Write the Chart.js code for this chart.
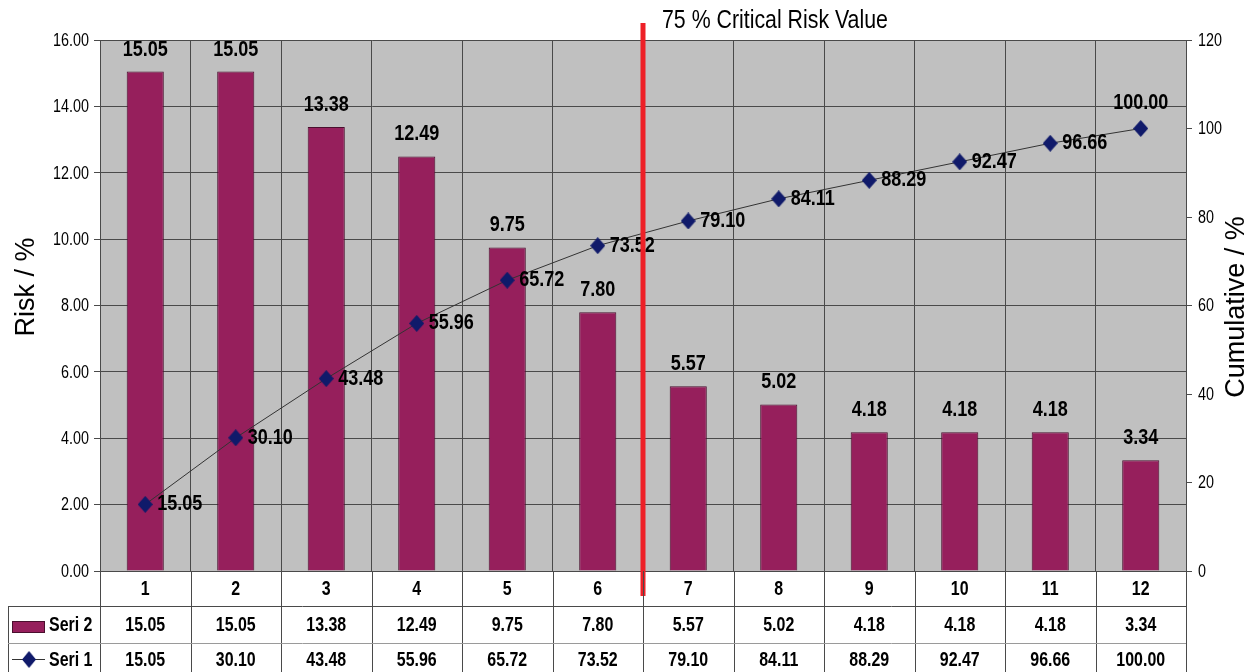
<!DOCTYPE html>
<html>
<head>
  <meta charset="utf-8">
  <title>Risk Pareto</title>
  <script src="https://cdn.jsdelivr.net/npm/chart.js"></script>
  <style>
    html, body { margin: 0; padding: 0; background: #fff; }
    #wrap { width: 1258px; height: 672px; }
  </style>
</head>
<body>
  <div id="wrap"><canvas id="myChart"></canvas></div>

  <script>
    // data
    const categories = ['1', '2', '3', '4', '5', '6', '7', '8', '9', '10', '11', '12'];
    const risk = [15.05, 15.05, 13.38, 12.49, 9.75, 7.80, 5.57, 5.02, 4.18, 4.18, 4.18, 3.34];
    const cumulative = [15.05, 30.10, 43.48, 55.96, 65.72, 73.52, 79.10, 84.11, 88.29, 92.47, 96.66, 100.00];
    const seriesNames = ['Seri 2', 'Seri 1'];
    const axisTitles = ['Risk / %', 'Cumulative / %'];
    const criticalLabel = '75 % Critical Risk Value';

    const FONT = '"Liberation Sans", Arial, sans-serif';
    const barColor = '#961f5c';
    const markColor = '#101a6a';
    const gridColor = '#4a4a4a';

    // diamond marker, a bit taller than wide
    const diamond = document.createElement('canvas');
    diamond.width = 15; diamond.height = 17;
    (function () {
      const d = diamond.getContext('2d');
      d.fillStyle = markColor;
      d.beginPath();
      d.moveTo(7.5, 0); d.lineTo(15, 8.5); d.lineTo(7.5, 17); d.lineTo(0, 8.5);
      d.closePath(); d.fill();
    })();

    // Arial Narrow look: squeeze Liberation Sans horizontally
    function narrow(ctx, text, x, y, size, bold, align, baseline, squeeze) {
      ctx.save();
      ctx.translate(x, y);
      ctx.scale(squeeze || 0.82, 1);
      ctx.font = (bold ? 'bold ' : '') + size + 'px ' + FONT;
      ctx.textAlign = align;
      ctx.textBaseline = baseline;
      ctx.fillText(text, 0, 0);
      ctx.restore();
    }

    const extras = {
      id: 'extras',
      beforeDraw(chart) {
        const a = chart.chartArea, ctx = chart.ctx;
        ctx.save();
        ctx.fillStyle = '#c0c0c0';
        ctx.fillRect(a.left, a.top, a.right - a.left, a.bottom - a.top);
        ctx.restore();
      },
      afterDatasetsDraw(chart) {
        const ctx = chart.ctx, a = chart.chartArea;
        const xs = chart.scales.x, yl = chart.scales.y, yr = chart.scales.y1;
        ctx.save();
        ctx.fillStyle = '#000';

        // axis tick labels
        yl.ticks.forEach(t => narrow(ctx, t.value.toFixed(2), a.left - 11, yl.getPixelForValue(t.value) + 1, 17.5, false, 'right', 'middle'));
        yr.ticks.forEach(t => narrow(ctx, String(t.value), a.right + 12, yr.getPixelForValue(t.value) + 1, 17.5, false, 'left', 'middle'));
        categories.forEach((c, i) => narrow(ctx, c, xs.getPixelForValue(i), 589, 21, true, 'center', 'middle', 0.76));

        // axis titles
        ctx.font = '27px ' + FONT;
        ctx.textAlign = 'center';
        ctx.textBaseline = 'middle';
        ctx.save();
        ctx.translate(27, 287);
        ctx.rotate(-Math.PI / 2);
        ctx.fillText(axisTitles[0], 0, 0);
        ctx.restore();
        ctx.save();
        ctx.translate(1237, 307);
        ctx.rotate(-Math.PI / 2);
        ctx.fillText(axisTitles[1], 0, 0);
        ctx.restore();

        // bar labels
        chart.getDatasetMeta(0).data.forEach((bar, i) => {
          narrow(ctx, risk[i].toFixed(2), bar.x, bar.y - 16, 22, true, 'center', 'alphabetic');
        });

        // line labels
        chart.getDatasetMeta(1).data.forEach((pt, i) => {
          if (i === cumulative.length - 1) {
            narrow(ctx, cumulative[i].toFixed(2), pt.x, pt.y - 20, 22, true, 'center', 'alphabetic');
          } else {
            narrow(ctx, cumulative[i].toFixed(2), pt.x + 12, pt.y, 22, true, 'left', 'middle');
          }
        });

        // critical line between 6 and 7
        const cx = (xs.getPixelForValue(5) + xs.getPixelForValue(6)) / 2;
        ctx.fillStyle = '#ee2027';
        ctx.fillRect(cx - 2.5, 23, 5, 573);
        ctx.fillStyle = '#000';
        narrow(ctx, criticalLabel, cx + 19, 21, 26, false, 'left', 'middle');

        // data table
        const cw = (a.right - a.left) / categories.length;
        const row1 = 606, row2 = 643, bottom = 672;
        ctx.strokeStyle = gridColor;
        ctx.lineWidth = 1;
        ctx.beginPath();
        for (let i = 0; i <= categories.length; i++) {
          const x = Math.round(a.left + i * cw) + 0.5;
          ctx.moveTo(x, a.bottom);
          ctx.lineTo(x, bottom);
        }
        ctx.moveTo(8.5, row1);
        ctx.lineTo(8.5, bottom);
        ctx.moveTo(8, row1 + 0.5);
        ctx.lineTo(a.right, row1 + 0.5);
        ctx.stroke();
        ctx.strokeStyle = '#9a9a9a';
        ctx.beginPath();
        ctx.moveTo(8, row2 + 0.5);
        ctx.lineTo(a.right, row2 + 0.5);
        ctx.stroke();

        ctx.fillStyle = '#000';
        categories.forEach((c, i) => {
          const x = xs.getPixelForValue(i);
          narrow(ctx, risk[i].toFixed(2), x, (row1 + row2) / 2 + 1, 21, true, 'center', 'middle', 0.76);
          narrow(ctx, cumulative[i].toFixed(2), x, (row2 + bottom) / 2 + 3, 21, true, 'center', 'middle', 0.76);
        });

        // legend keys
        ctx.fillStyle = barColor;
        ctx.strokeStyle = '#4a0f2e';
        ctx.fillRect(12, 621, 33, 12);
        ctx.strokeRect(12.5, 621.5, 32, 11);
        ctx.strokeStyle = '#333';
        ctx.beginPath();
        ctx.moveTo(12, 659.5);
        ctx.lineTo(45, 659.5);
        ctx.stroke();
        ctx.drawImage(diamond, 22, 651, 14, 17);
        ctx.fillStyle = '#000';
        narrow(ctx, seriesNames[0], 49, (row1 + row2) / 2 + 1, 21, true, 'left', 'middle', 0.76);
        narrow(ctx, seriesNames[1], 49, (row2 + bottom) / 2 + 3, 21, true, 'left', 'middle', 0.76);
        ctx.restore();
      }
    };

    const ctx = document.getElementById('myChart').getContext('2d');
    new Chart(ctx, {
      data: {
        labels: categories,
        datasets: [
          {
            type: 'bar',
            label: seriesNames[0],
            data: risk,
            yAxisID: 'y',
            backgroundColor: barColor,
            borderColor: '#4a0f2e',
            borderWidth: 1,
            barPercentage: 0.5,
            categoryPercentage: 0.82,
            order: 2
          },
          {
            type: 'line',
            label: seriesNames[1],
            data: cumulative,
            yAxisID: 'y1',
            borderColor: '#333',
            borderWidth: 1,
            pointStyle: diamond,
            pointRadius: 8,
            tension: 0,
            order: 1
          }
        ]
      },
      options: {
        responsive: true,
        maintainAspectRatio: false,
        animation: false,
        layout: { padding: { top: 40, bottom: 66, left: 0, right: 0 } },
        plugins: {
          legend: { display: false },
          tooltip: { enabled: false }
        },
        scales: {
          x: {
            offset: true,
            afterFit: s => { s.height = 35; },
            grid: { offset: true, color: gridColor, drawTicks: false },
            border: { color: gridColor },
            ticks: { color: 'rgba(0,0,0,0)', font: { family: FONT, size: 17 } }
          },
          y: {
            position: 'left',
            min: 0, max: 16,
            afterFit: s => { s.width = 100; },
            ticks: { stepSize: 2, color: 'rgba(0,0,0,0)', font: { family: FONT, size: 17 } },
            grid: { color: gridColor, tickLength: 6 },
            border: { color: gridColor }
          },
          y1: {
            position: 'right',
            min: 0, max: 120,
            afterFit: s => { s.width = 72; },
            ticks: { stepSize: 20, color: 'rgba(0,0,0,0)', font: { family: FONT, size: 17 } },
            grid: { drawOnChartArea: false, color: gridColor, tickLength: 6 },
            border: { color: gridColor }
          }
        }
      },
      plugins: [extras]
    });
  </script>
</body>
</html>
